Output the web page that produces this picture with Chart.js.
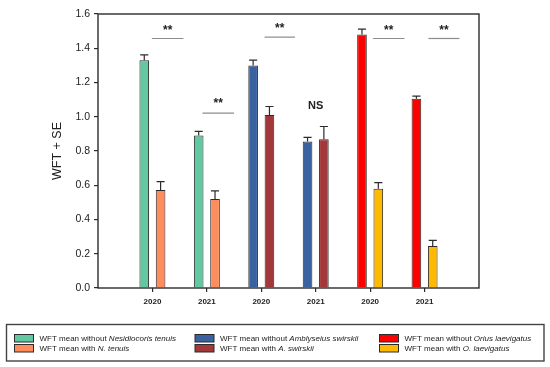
<!DOCTYPE html>
<html>
<head>
<meta charset="utf-8">
<script src="https://cdn.jsdelivr.net/npm/chart.js@4/dist/chart.umd.min.js"></script>
<style>
  html, body { margin: 0; padding: 0; background: #fff; }
  #wrap { width: 550px; height: 367px; }
</style>
</head>
<body>
<div id="wrap"><canvas id="chart" width="550" height="367"></canvas></div>
<script>
// x positions: empty slots at both ends so the groups sit at ticks 1..6
const yearLabels = ['', '2020', '2021', '2020', '2021', '2020', '2021', ''];

// means and SE per year group (2020, 2021 for each predator)
const withoutMeans = [1.33, 0.89, 1.30, 0.855, 1.48, 1.105];
const withoutSE = [0.031, 0.025, 0.031, 0.025, 0.032, 0.016];
const withMeans = [0.572, 0.52, 1.01, 0.869, 0.58, 0.245];
const withSE = [0.049, 0.047, 0.05, 0.074, 0.035, 0.033];

const predators = ['Nesidiocoris tenuis', 'Amblyseius swirskii', 'Orius laevigatus'];
const shortNames = ['N. tenuis', 'A. swirskii', 'O. laevigatus'];
const withoutColors = ['#63c7a2', '#3b62a0', '#ff0000'];
const withColors = ['#ff8c5c', '#a3383b', '#ffb900'];

// significance marks: text, y of line, y of text, line span around group (category units)
const sigText = ['**', '**', '**', 'NS', '**', '**'];
const sigLineY = [1.457, 1.021, 1.465, null, 1.457, 1.457];
const sigTextY = [1.527, 1.095, 1.533, 1.064, 1.527, 1.527];
const sigFrom = [-0.01, -0.08, 0.06, null, 0.05, 0.07];
const sigTo = [0.57, 0.5, 0.62, null, 0.63, 0.64];

const FONT = '"Liberation Sans", Arial, sans-serif';

function seriesFor(p, values) {
  // only the two years of predator p get a value
  const out = yearLabels.map(() => null);
  out[2 * p + 1] = values[2 * p];
  out[2 * p + 2] = values[2 * p + 1];
  return out;
}

const datasets = [];
predators.forEach((name, p) => {
  datasets.push({
    label: 'WFT mean without |' + name,
    data: seriesFor(p, withoutMeans),
    se: seriesFor(p, withoutSE),
    backgroundColor: withoutColors[p]
  });
  datasets.push({
    label: 'WFT mean with |' + shortNames[p],
    data: seriesFor(p, withMeans),
    se: seriesFor(p, withSE),
    backgroundColor: withColors[p]
  });
});
datasets.forEach(ds => {
  ds.borderColor = '#2b2b2b';
  ds.borderWidth = 1;
  ds.skipNull = true;
  ds.categoryPercentage = 0.6;
  ds.barPercentage = 0.59;
});

const errorBars = {
  id: 'errorBars',
  afterDatasetsDraw(chart) {
    const ctx = chart.ctx;
    const y = chart.scales.y;
    ctx.save();
    ctx.strokeStyle = '#2b2b2b';
    ctx.lineWidth = 1.2;
    chart.data.datasets.forEach((ds, di) => {
      chart.getDatasetMeta(di).data.forEach((bar, i) => {
        if (ds.data[i] == null) return;
        const top = y.getPixelForValue(ds.data[i] + ds.se[i]);
        const half = bar.width * 0.42;
        ctx.beginPath();
        ctx.moveTo(bar.x, bar.y);
        ctx.lineTo(bar.x, top);
        ctx.moveTo(bar.x - half, top);
        ctx.lineTo(bar.x + half, top);
        ctx.stroke();
      });
    });
    ctx.restore();
  }
};

const frameAndMarks = {
  id: 'frameAndMarks',
  afterDraw(chart) {
    const ctx = chart.ctx;
    const a = chart.chartArea;
    const x = chart.scales.x;
    const y = chart.scales.y;
    ctx.save();
    // plot frame
    ctx.strokeStyle = '#2b2b2b';
    ctx.lineWidth = 1.4;
    ctx.strokeRect(a.left, a.top, a.right - a.left, a.bottom - a.top);

    // significance labels
    sigText.forEach((t, g) => {
      const c = g + 1;
      let cx = x.getPixelForValue(c);
      if (sigLineY[g] != null) {
        const x0 = x.getPixelForValue(c + sigFrom[g]);
        const x1 = x.getPixelForValue(c + sigTo[g]);
        const ly = y.getPixelForValue(sigLineY[g]);
        ctx.strokeStyle = '#8c8c8c';
        ctx.lineWidth = 1.2;
        ctx.beginPath();
        ctx.moveTo(x0, ly);
        ctx.lineTo(x1, ly);
        ctx.stroke();
        cx = (x0 + x1) / 2;
      }
      ctx.fillStyle = '#222';
      ctx.textAlign = 'center';
      const ty = y.getPixelForValue(sigTextY[g]);
      if (t === '**') {
        ctx.font = 'bold 12px ' + FONT;
        ctx.textBaseline = 'alphabetic';
        ctx.fillText(t, cx, ty + 7);
      } else {
        ctx.font = 'bold 11px ' + FONT;
        ctx.textBaseline = 'middle';
        ctx.fillText(t, cx, ty);
      }
    });

    // legend box
    ctx.strokeStyle = '#444';
    ctx.lineWidth = 1.4;
    ctx.strokeRect(6.5, 324.5, 537.5, 36.5);
    const colX = [14.5, 195, 379.5];
    const rowY = [334.5, 344.5];
    ctx.textBaseline = 'middle';
    ctx.textAlign = 'left';
    chart.data.datasets.forEach((ds, di) => {
      const col = Math.floor(di / 2);
      const row = di % 2;
      const sx = colX[col];
      const sy = rowY[row];
      ctx.fillStyle = ds.backgroundColor;
      ctx.fillRect(sx, sy, 19, 7.5);
      ctx.strokeStyle = '#2b2b2b';
      ctx.lineWidth = 1;
      ctx.strokeRect(sx, sy, 19, 7.5);
      const parts = ds.label.split('|');
      let tx = sx + 25;
      const ty = sy + 4;
      ctx.fillStyle = '#222';
      ctx.font = '8px ' + FONT;
      ctx.fillText(parts[0], tx, ty);
      tx += ctx.measureText(parts[0]).width;
      ctx.font = 'italic 8px ' + FONT;
      ctx.fillText(parts[1], tx, ty);
    });
    ctx.restore();
  }
};

new Chart(document.getElementById('chart'), {
  type: 'bar',
  data: { labels: yearLabels, datasets },
  options: {
    responsive: false,
    animation: false,
    layout: { padding: { left: 0, top: 14, right: 71, bottom: 0 } },
    plugins: {
      legend: { display: false },
      tooltip: { enabled: false }
    },
    scales: {
      x: {
        offset: false,
        afterFit: s => { s.height = 79; },
        border: { display: false },
        grid: {
          offset: false,
          drawOnChartArea: false,
          tickLength: 4,
          lineWidth: 1.2,
          color: c => (c.index === 0 || c.index === yearLabels.length - 1) ? 'rgba(0,0,0,0)' : '#2b2b2b'
        },
        ticks: {
          autoSkip: false,
          maxRotation: 0,
          padding: 5,
          color: '#222',
          font: { family: FONT, size: 8, weight: 'bold' }
        }
      },
      y: {
        min: 0,
        max: 1.6,
        afterFit: s => { s.width = 98; },
        border: { display: false },
        grid: {
          drawOnChartArea: false,
          tickLength: 4,
          lineWidth: 1.2,
          color: '#2b2b2b'
        },
        ticks: {
          stepSize: 0.2,
          padding: 4,
          color: '#222',
          font: { family: FONT, size: 10.5 },
          callback: v => v.toFixed(1)
        },
        title: {
          display: true,
          text: 'WFT + SE',
          color: '#222',
          padding: { top: 50, bottom: 0 },
          font: { family: FONT, size: 12.5 }
        }
      }
    }
  },
  plugins: [errorBars, frameAndMarks]
});
</script>
</body>
</html>
